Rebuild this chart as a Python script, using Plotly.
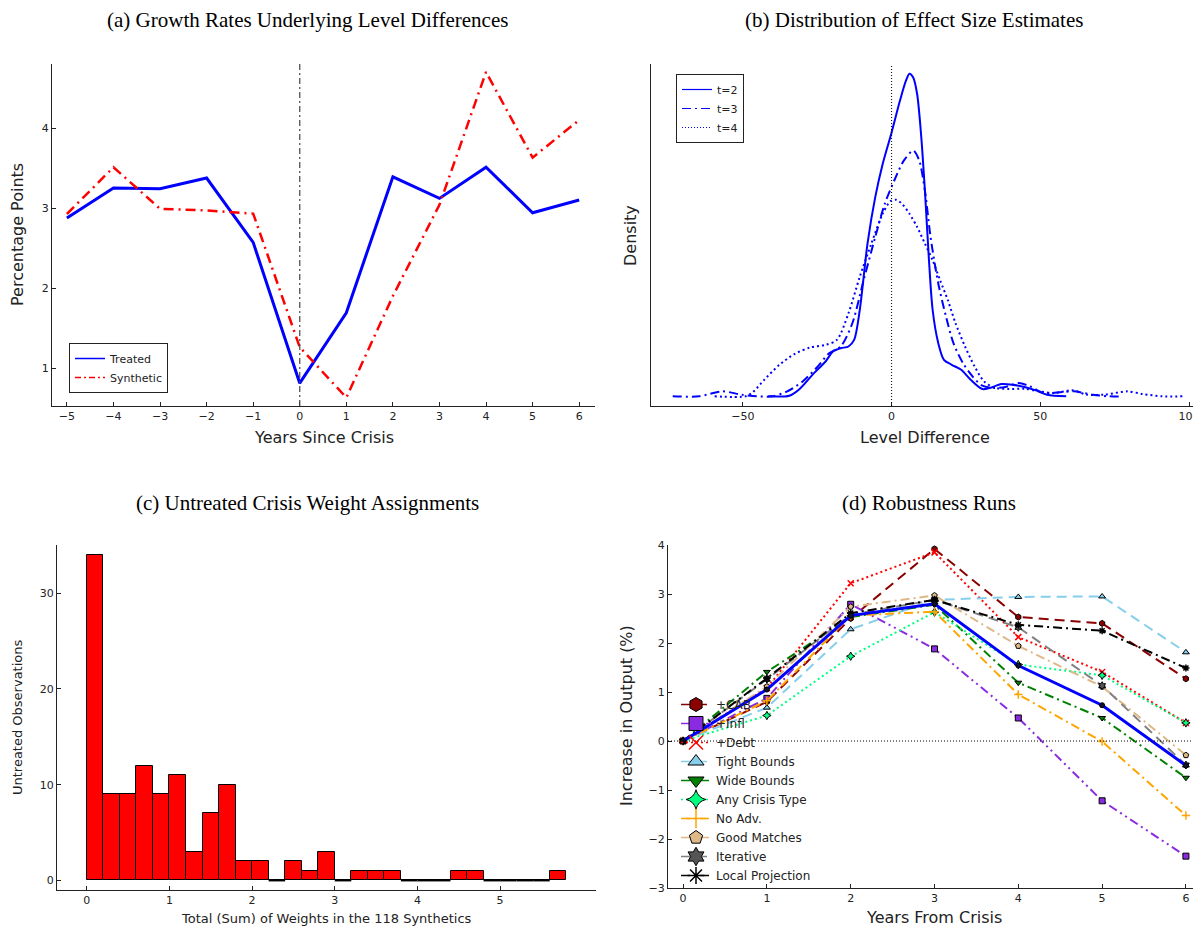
import plotly.graph_objects as go

# ---------------- Panel (a) data ----------------
years_a = [-5, -4, -3, -2, -1, 0, 1, 2, 3, 4, 5, 6]
treated = [2.875, 3.25, 3.24, 3.375, 2.57, 0.81, 1.69, 3.39, 3.12, 3.51, 2.94, 3.10]
synthetic = [2.925, 3.51, 2.99, 2.97, 2.93, 1.26, 0.63, 1.90, 3.04, 4.70, 3.63, 4.10]

# ---------------- Panel (b) data (kernel density curves) ----------------
t2_x = [-41.5, -34.4, -31.2, -26.1, -22.2, -19.7, -17.1, -14.5, -12.6, -10.7, -8.1, -5.5, -3.0, 0.0,
        2.8, 4.8, 6.0, 7.3, 8.6, 9.9, 11.2, 12.5, 13.8, 15.7, 17.6, 20.2, 23.4, 26.6, 30.5, 33.0,
        36.9, 40.7, 44.6, 48.5, 52.3, 58.7]
t2_d = [0.0, 0.00009, 0.00093, 0.00324, 0.00486, 0.00625, 0.00671, 0.00695, 0.00787, 0.01204,
        0.02130, 0.02778, 0.03241, 0.03681, 0.04121, 0.04398, 0.04500, 0.04444, 0.04213, 0.03658,
        0.02870, 0.01944, 0.01204, 0.00741, 0.00509, 0.00440, 0.00370, 0.00231, 0.00102, 0.00116,
        0.00171, 0.00162, 0.00130, 0.00083, 0.00023, 0.0]
t3_x = [-73.6, -64.7, -56.9, -50.5, -45.4, -40.2, -35.1, -29.9, -24.8, -21.0, -17.1, -13.2, -9.4,
        -5.5, -2.3, 0.9, 4.1, 7.3, 9.3, 11.2, 13.1, 15.7, 18.3, 20.8, 24.0, 27.2, 30.5, 34.3, 38.2,
        42.7, 46.5, 51.0, 56.2, 61.3, 67.7, 72.9, 77.4]
t3_d = [0.0, 0.0, 0.00069, 0.00023, 0.0, 0.0, 0.00069, 0.00208, 0.00417, 0.00602, 0.00695, 0.01019,
        0.01621, 0.02222, 0.02685, 0.03010, 0.03287, 0.03426, 0.03287, 0.02870, 0.02222, 0.01574,
        0.01111, 0.00741, 0.00463, 0.00278, 0.00148, 0.00116, 0.00130, 0.00185, 0.00139, 0.00046,
        0.00056, 0.00069, 0.00023, 0.0, 0.0]
t4_x = [-59.5, -49.2, -46.7, -42.8, -37.7, -32.5, -27.4, -22.2, -18.4, -14.5, -10.7, -6.8, -3.0,
        -0.4, 1.5, 3.5, 6.0, 8.6, 11.2, 13.8, 16.3, 18.9, 21.5, 24.7, 27.9, 31.1, 34.3, 39.5, 44.6,
        49.7, 54.9, 60.7, 65.8, 71.6, 79.3, 84.4, 90.9, 97.9]
t4_d = [0.0, 0.0, 0.00056, 0.00231, 0.00440, 0.00593, 0.00681, 0.00718, 0.00787, 0.01158, 0.01667,
        0.02130, 0.02546, 0.02722, 0.02741, 0.02685, 0.02546, 0.02361, 0.02130, 0.01898, 0.01620,
        0.01343, 0.01019, 0.00695, 0.00417, 0.00208, 0.00125, 0.00102, 0.00106, 0.00069, 0.00046,
        0.00083, 0.00023, 0.00023, 0.00069, 0.00032, 0.0, 0.0]

# ---------------- Panel (c) data (histogram counts) ----------------
bin_start = 0.0
bin_width = 0.2
bin_counts = [34, 9, 9, 12, 9, 11, 3, 7, 10, 2, 2, 0, 2, 1, 3, 0, 1, 1, 1, 0, 0, 0, 1, 1, 0, 0, 0, 0, 1]

# ---------------- Panel (d) data ----------------
years_d = [0, 1, 2, 3, 4, 5, 6]
baseline = [0, 1.05, 2.56, 2.80, 1.54, 0.73, -0.50]
cab = [0, 0.80, 2.50, 3.92, 2.53, 2.40, 1.27]
infl = [0, 0.87, 2.79, 1.88, 0.47, -1.22, -2.35]
debt = [0, 1.08, 3.22, 3.85, 2.12, 1.41, 0.37]
tight_bounds = [0, 0.68, 2.28, 2.88, 2.94, 2.95, 1.81]
wide_bounds = [0, 1.41, 2.53, 2.78, 1.19, 0.47, -0.75]
any_crisis = [0, 0.52, 1.73, 2.63, 1.56, 1.34, 0.37]
no_adv = [0, 0.82, 2.56, 2.64, 0.95, -0.01, -1.52]
good_matches = [0, 1.11, 2.74, 2.97, 1.94, 1.11, -0.29]
iterative = [0, 1.26, 2.58, 2.88, 2.32, 1.13, -0.49]
local_proj = [0, 1.28, 2.61, 2.88, 2.37, 2.25, 1.49]

# The page body adds an 8px margin, so the figure is sized/placed to compensate.
OFF = 8
W, H = 1201 - OFF, 926 - OFF
SANS = "DejaVu Sans"
SERIF = "Liberation Serif"
INK = "#222222"


def px_x(p):
    return (p - OFF) / W


def px_y(p):
    return 1 - (p - OFF) / H


fig = go.Figure()

# ---------- (a) ----------
fig.add_trace(go.Scatter(x=years_a, y=treated, mode="lines", line=dict(color="#0000FF", width=3),
                         showlegend=False, xaxis="x", yaxis="y"))
fig.add_trace(go.Scatter(x=years_a, y=synthetic, mode="lines",
                         line=dict(color="#FF0000", width=2.5, dash="10px,5px,2px,5px"),
                         showlegend=False, xaxis="x", yaxis="y"))
fig.add_trace(go.Scatter(x=[None], y=[None], mode="lines", name="Treated",
                         line=dict(color="#0000FF", width=1.5), legend="legend", xaxis="x", yaxis="y"))
fig.add_trace(go.Scatter(x=[None], y=[None], mode="lines", name="Synthetic",
                         line=dict(color="#FF0000", width=1.5, dash="6px,3px,2px,3px"),
                         legend="legend", xaxis="x", yaxis="y"))

# ---------- (b) ----------
for name, xs, ds, dash in [("t=2", t2_x, t2_d, "solid"),
                           ("t=3", t3_x, t3_d, "9px,4px,2px,4px"),
                           ("t=4", t4_x, t4_d, "2px,3px")]:
    fig.add_trace(go.Scatter(x=xs, y=ds, mode="lines", line=dict(color="#0000FF", width=2, dash=dash,
                                                                  shape="spline", smoothing=0.8),
                             showlegend=False, xaxis="x2", yaxis="y2"))
    fig.add_trace(go.Scatter(x=[None], y=[None], mode="lines", name=name,
                             line=dict(color="#0000FF", width=1.2, dash=dash if dash != "2px,3px" else "1px,2px"),
                             legend="legend2", xaxis="x2", yaxis="y2"))

# ---------- (c) ----------
bin_centers = [bin_start + bin_width * (i + 0.5) for i in range(len(bin_counts))]
fig.add_trace(go.Bar(x=bin_centers, y=bin_counts, width=bin_width,
                     marker=dict(color="#FF0000", line=dict(color="#000000", width=1)),
                     showlegend=False, xaxis="x3", yaxis="y3"))
zx, zy = [], []
for i, c in enumerate(bin_counts):
    if c == 0:
        zx += [bin_start + bin_width * i, bin_start + bin_width * (i + 1), None]
        zy += [0, 0, None]
fig.add_trace(go.Scatter(x=zx, y=zy, mode="lines", line=dict(color="#000000", width=2),
                         showlegend=False, xaxis="x3", yaxis="y3"))

# ---------- (d) ----------
series_d = [
    ("+CAB", cab, "#8B0000", "10px,6px", dict(symbol="hexagon", color="#8B0000", line=dict(color="#000", width=1))),
    ("+Infl", infl, "#8A2BE2", "9px,4px,2px,4px,2px,4px", dict(symbol="square", color="#8A2BE2", line=dict(color="#000", width=1))),
    ("+Debt", debt, "#FF0000", "2px,3px", dict(symbol="x-thin", color="#FF0000", line=dict(color="#FF0000", width=1.5))),
    ("Tight Bounds", tight_bounds, "#87CEEB", "10px,6px", dict(symbol="triangle-up", color="#87CEEB", line=dict(color="#000", width=1))),
    ("Wide Bounds", wide_bounds, "#008000", "9px,4px,2px,4px", dict(symbol="triangle-down", color="#008000", line=dict(color="#000", width=1))),
    ("Any Crisis Type", any_crisis, "#00FF7F", "2px,3px", dict(symbol="star-diamond", color="#00FF7F", line=dict(color="#000", width=1))),
    ("No Adv.", no_adv, "#FFA500", "9px,4px,2px,4px", dict(symbol="cross-thin", color="#FFA500", line=dict(color="#FFA500", width=1.5))),
    ("Good Matches", good_matches, "#DEB887", "9px,4px,2px,4px", dict(symbol="pentagon", color="#DEB887", line=dict(color="#000", width=1))),
    ("Iterative", iterative, "#808080", "10px,6px", dict(symbol="hexagram", color="#555555", line=dict(color="#000", width=1))),
    ("Local Projection", local_proj, "#000000", "9px,4px,2px,4px", dict(symbol="asterisk-open", color="#000000", line=dict(color="#000000", width=1.5))),
]
for name, vals, col, dash, mk in series_d:
    m_plot = dict(mk)
    m_plot["size"] = 6
    fig.add_trace(go.Scatter(x=years_d, y=vals, mode="lines+markers", line=dict(color=col, width=2, dash=dash),
                             marker=m_plot, showlegend=False, xaxis="x4", yaxis="y4"))
fig.add_trace(go.Scatter(x=years_d, y=baseline, mode="lines+markers", line=dict(color="#0000FF", width=3),
                         marker=dict(symbol="circle", size=5, color="#101030", line=dict(color="#000", width=1)),
                         showlegend=False, xaxis="x4", yaxis="y4"))
for name, vals, col, dash, mk in series_d:
    m_leg = dict(mk)
    m_leg["size"] = 14
    fig.add_trace(go.Scatter(x=[None], y=[None], mode="lines+markers", name=name,
                             line=dict(color=col, width=1.5, dash=dash), marker=m_leg,
                             legend="legend3", xaxis="x4", yaxis="y4"))


def axis(domain, rng, anchor, **kw):
    d = dict(domain=domain, range=rng, anchor=anchor, showline=True, linecolor=INK, linewidth=1,
             ticks="inside", ticklen=4, tickcolor=INK, tickwidth=1,
             tickfont=dict(family=SANS, size=11, color=INK),
             showgrid=False, zeroline=False, mirror=False, automargin=False, fixedrange=True)
    d.update(kw)
    return d


dom_a_x = [px_x(52), px_x(595)]
dom_b_x = [px_x(651), px_x(1200)]
dom_ab_y = [px_y(406), px_y(64)]
dom_c_x = [px_x(57), px_x(596)]
dom_c_y = [px_y(890), px_y(545)]
dom_d_x = [px_x(668), 1.0]
dom_d_y = [px_y(888), px_y(545)]

fig.update_layout(
    width=W, height=H,
    margin=dict(l=0, r=0, t=0, b=0),
    paper_bgcolor="white", plot_bgcolor="white",
    font=dict(family=SANS, color=INK),
    xaxis=axis(dom_a_x, [-5.32, 6.34], "y", tickvals=years_a),
    yaxis=axis(dom_ab_y, [0.525, 4.8], "x", tickvals=[1, 2, 3, 4]),
    xaxis2=axis(dom_b_x, [-80.9, 103.7], "y2", tickvals=[-50, 0, 50, 100]),
    yaxis2=axis(dom_ab_y, [-0.00135, 0.04635], "x2", showticklabels=False, ticks=""),
    xaxis3=axis(dom_c_x, [-0.36, 6.16], "y3", tickvals=[0, 1, 2, 3, 4, 5]),
    yaxis3=axis(dom_c_y, [-1.0, 35.04], "x3", tickvals=[0, 10, 20, 30]),
    xaxis4=axis(dom_d_x, [-0.18, 6.18], "y4", tickvals=years_d),
    yaxis4=axis(dom_d_y, [-3, 4], "x4", tickvals=[-3, -2, -1, 0, 1, 2, 3, 4]),
    bargap=0,
    legend=dict(x=px_x(69), y=px_y(393), xanchor="left", yanchor="bottom", bgcolor="white",
                bordercolor=INK, borderwidth=1, font=dict(family=SANS, size=11, color=INK),
                itemwidth=30, tracegroupgap=0),
    legend2=dict(x=px_x(676), y=px_y(74), xanchor="left", yanchor="top", bgcolor="white",
                 bordercolor=INK, borderwidth=1, font=dict(family=SANS, size=11, color=INK),
                 itemwidth=30, tracegroupgap=0),
    legend3=dict(x=px_x(676), y=px_y(890), xanchor="left", yanchor="bottom", bgcolor="rgba(0,0,0,0)",
                 borderwidth=0, font=dict(family=SANS, size=12, color=INK),
                 itemwidth=30, tracegroupgap=0),
)

# Reference lines
fig.add_shape(type="line", xref="x", yref="y domain", x0=0, x1=0, y0=0, y1=1,
              line=dict(color="#444444", width=1.2, dash="6px,3px,2px,3px"))
fig.add_shape(type="line", xref="x2", yref="y2 domain", x0=0, x1=0, y0=0, y1=1,
              line=dict(color="#000000", width=1, dash="1px,2px"))
fig.add_shape(type="line", xref="x4 domain", yref="y4", x0=0, x1=1, y0=0, y1=0,
              line=dict(color="#000000", width=1, dash="1px,2px"))

# Titles and axis labels
anns = [
    ("(a) Growth Rates Underlying Level Differences", 307, 20, SERIF, 21, 0),
    ("(b) Distribution of Effect Size Estimates", 914, 20, SERIF, 21, 0),
    ("(c) Untreated Crisis Weight Assignments", 307, 503, SERIF, 21, 0),
    ("(d) Robustness Runs", 929, 503, SERIF, 21, 0),
    ("Years Since Crisis", 324, 437, SANS, 16, 0),
    ("Percentage Points", 18, 235, SANS, 16, -90),
    ("Level Difference", 925, 437, SANS, 16, 0),
    ("Density", 631, 235, SANS, 16, -90),
    ("Total (Sum) of Weights in the 118 Synthetics", 326, 918, SANS, 13, 0),
    ("Untreated Observations", 17, 717, SANS, 13, -90),
    ("Years From Crisis", 934, 917, SANS, 16, 0),
    ("Increase in Output (%)", 626, 716, SANS, 16, -90),
]
for text, x, y, fam, size, ang in anns:
    fig.add_annotation(text=text, x=px_x(x), y=px_y(y), xref="paper", yref="paper",
                       xanchor="center", yanchor="middle", showarrow=False, textangle=ang,
                       font=dict(family=fam, size=size, color="#000000" if fam == SERIF else INK))

fig.write_html("out.html")
